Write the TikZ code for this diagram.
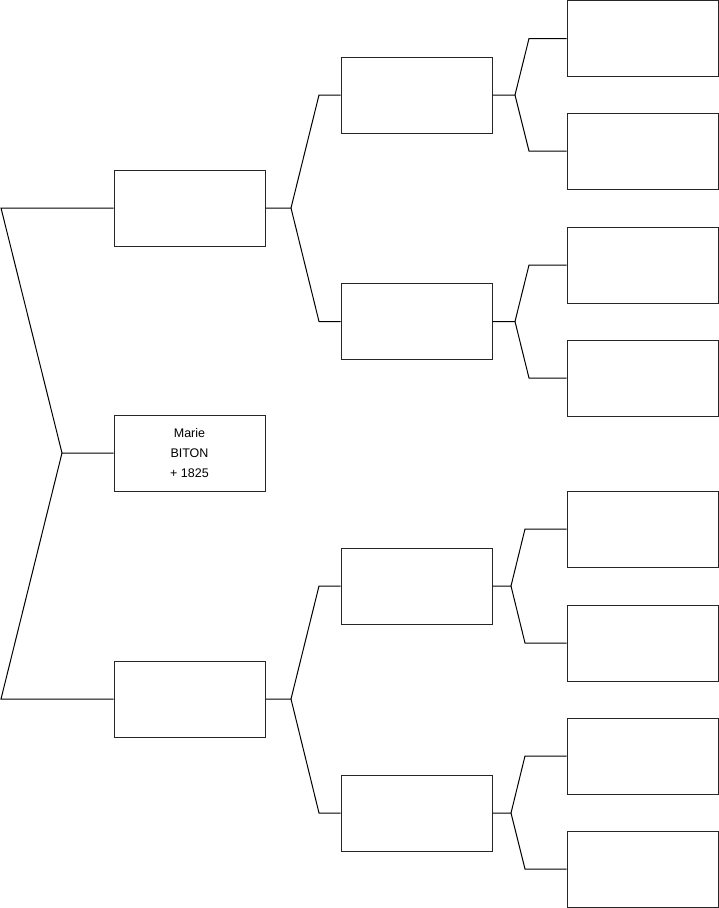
\documentclass[tikz,border=0pt]{standalone}
\usepackage{fontspec}
\setmainfont{Liberation Sans}
\begin{document}
\begin{tikzpicture}[x=1pt,y=-1pt,
  pbox/.style={draw=black!85, line width=1pt, minimum width=151pt, minimum height=76pt, inner sep=0pt, align=center, font=\fontsize{12.5}{20}\selectfont},
  link/.style={draw=black, line width=1pt}]
\useasboundingbox (0,0) rectangle (719,908);
% column 1
\node[pbox] (a1) at (189.5,208) {};
\node[pbox] (m)  at (189.5,453) {Marie\\BITON\\+ 1825};
\node[pbox] (a2) at (189.5,699) {};
% column 2
\node[pbox] (b1) at (416.5,95) {};
\node[pbox] (b2) at (416.5,321.5) {};
\node[pbox] (b3) at (416.5,586) {};
\node[pbox] (b4) at (416.5,813) {};
% column 3
\node[pbox] (c1) at (642.5,38.5) {};
\node[pbox] (c2) at (642.5,151) {};
\node[pbox] (c3) at (642.5,265) {};
\node[pbox] (c4) at (642.5,378) {};
\node[pbox] (c5) at (642.5,529) {};
\node[pbox] (c6) at (642.5,643) {};
\node[pbox] (c7) at (642.5,756) {};
\node[pbox] (c8) at (642.5,869) {};
% fork points
\coordinate (f0) at (62,453);
\coordinate (e1) at (1,208);
\coordinate (e2) at (1,699);
\coordinate (f1) at (291,208);
\coordinate (g1) at (319,95);
\coordinate (g2) at (319,321.5);
\coordinate (f2) at (291,699);
\coordinate (g3) at (319,586);
\coordinate (g4) at (319,813);
\coordinate (h1) at (515,95);
\coordinate (k1) at (529,38.5);
\coordinate (k2) at (529,151);
\coordinate (h2) at (515,321.5);
\coordinate (k3) at (529,265);
\coordinate (k4) at (529,378);
\coordinate (h3) at (511,586);
\coordinate (k5) at (525,529);
\coordinate (k6) at (525,643);
\coordinate (h4) at (511,813);
\coordinate (k7) at (525,756);
\coordinate (k8) at (525,869);
% connectors
\draw[link] (m.west) -- (f0) -- (e1) -- (a1.west);
\draw[link] (f0) -- (e2) -- (a2.west);
\draw[link] (a1.east) -- (f1) -- (g1) -- (b1.west);
\draw[link] (f1) -- (g2) -- (b2.west);
\draw[link] (a2.east) -- (f2) -- (g3) -- (b3.west);
\draw[link] (f2) -- (g4) -- (b4.west);
\draw[link] (b1.east) -- (h1) -- (k1) -- (c1.west);
\draw[link] (h1) -- (k2) -- (c2.west);
\draw[link] (b2.east) -- (h2) -- (k3) -- (c3.west);
\draw[link] (h2) -- (k4) -- (c4.west);
\draw[link] (b3.east) -- (h3) -- (k5) -- (c5.west);
\draw[link] (h3) -- (k6) -- (c6.west);
\draw[link] (b4.east) -- (h4) -- (k7) -- (c7.west);
\draw[link] (h4) -- (k8) -- (c8.west);
\end{tikzpicture}
\end{document}
